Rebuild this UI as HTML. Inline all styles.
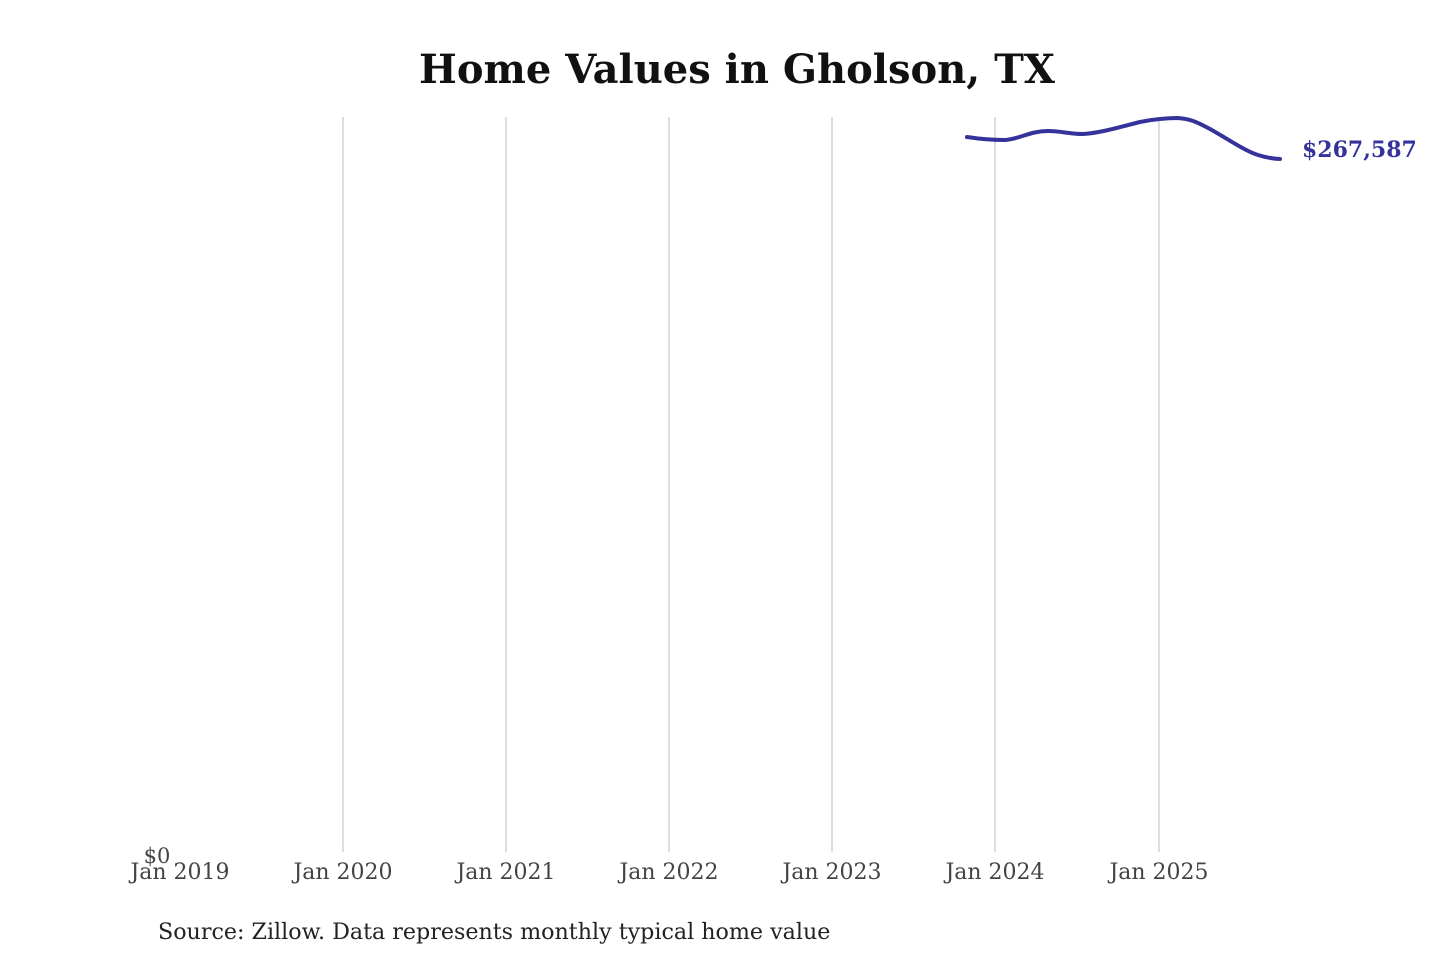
<!DOCTYPE html>
<html><head><meta charset="utf-8"><style>
body{margin:0;background:#fff;width:1440px;height:960px;overflow:hidden}
</style></head><body>
<svg width="1440" height="960" xmlns="http://www.w3.org/2000/svg" font-family="DejaVu Serif, Liberation Serif, serif">
<text x="737" y="83" text-anchor="middle" font-size="40" font-weight="bold" fill="#111">Home Values in Gholson, TX</text>
<g stroke="#c8c8c8" stroke-width="1.2">
<line x1="343" y1="117" x2="343" y2="852"/>
<line x1="506" y1="117" x2="506" y2="852"/>
<line x1="669" y1="117" x2="669" y2="852"/>
<line x1="832" y1="117" x2="832" y2="852"/>
<line x1="995" y1="117" x2="995" y2="852"/>
<line x1="1159" y1="117" x2="1159" y2="852"/>
</g>
<path d="M967,137 C980,139 990,140 1005,140 C1020,139 1030,131 1048,131 C1062,131 1068,134 1083,134 C1100,133 1120,127 1140,122 C1155,119 1165,118 1178,118 C1190,119 1195,121 1210,129 C1228,139 1245,151 1258,155 C1268,158 1274,159 1280,159" fill="none" stroke="#35339a" stroke-width="4" stroke-linecap="round"/>
<text x="1302" y="157" font-size="22" font-weight="bold" fill="#35339a">$267,587</text>
<g font-size="22" fill="#444" text-anchor="middle">
<text x="157" y="863" font-size="21">$0</text>
<text x="180" y="879">Jan 2019</text>
<text x="343" y="879">Jan 2020</text>
<text x="506" y="879">Jan 2021</text>
<text x="669" y="879">Jan 2022</text>
<text x="832" y="879">Jan 2023</text>
<text x="995" y="879">Jan 2024</text>
<text x="1159" y="879">Jan 2025</text>
</g>
<text x="158" y="939" font-size="22.2" fill="#222">Source: Zillow. Data represents monthly typical home value</text>
</svg>
</body></html>
